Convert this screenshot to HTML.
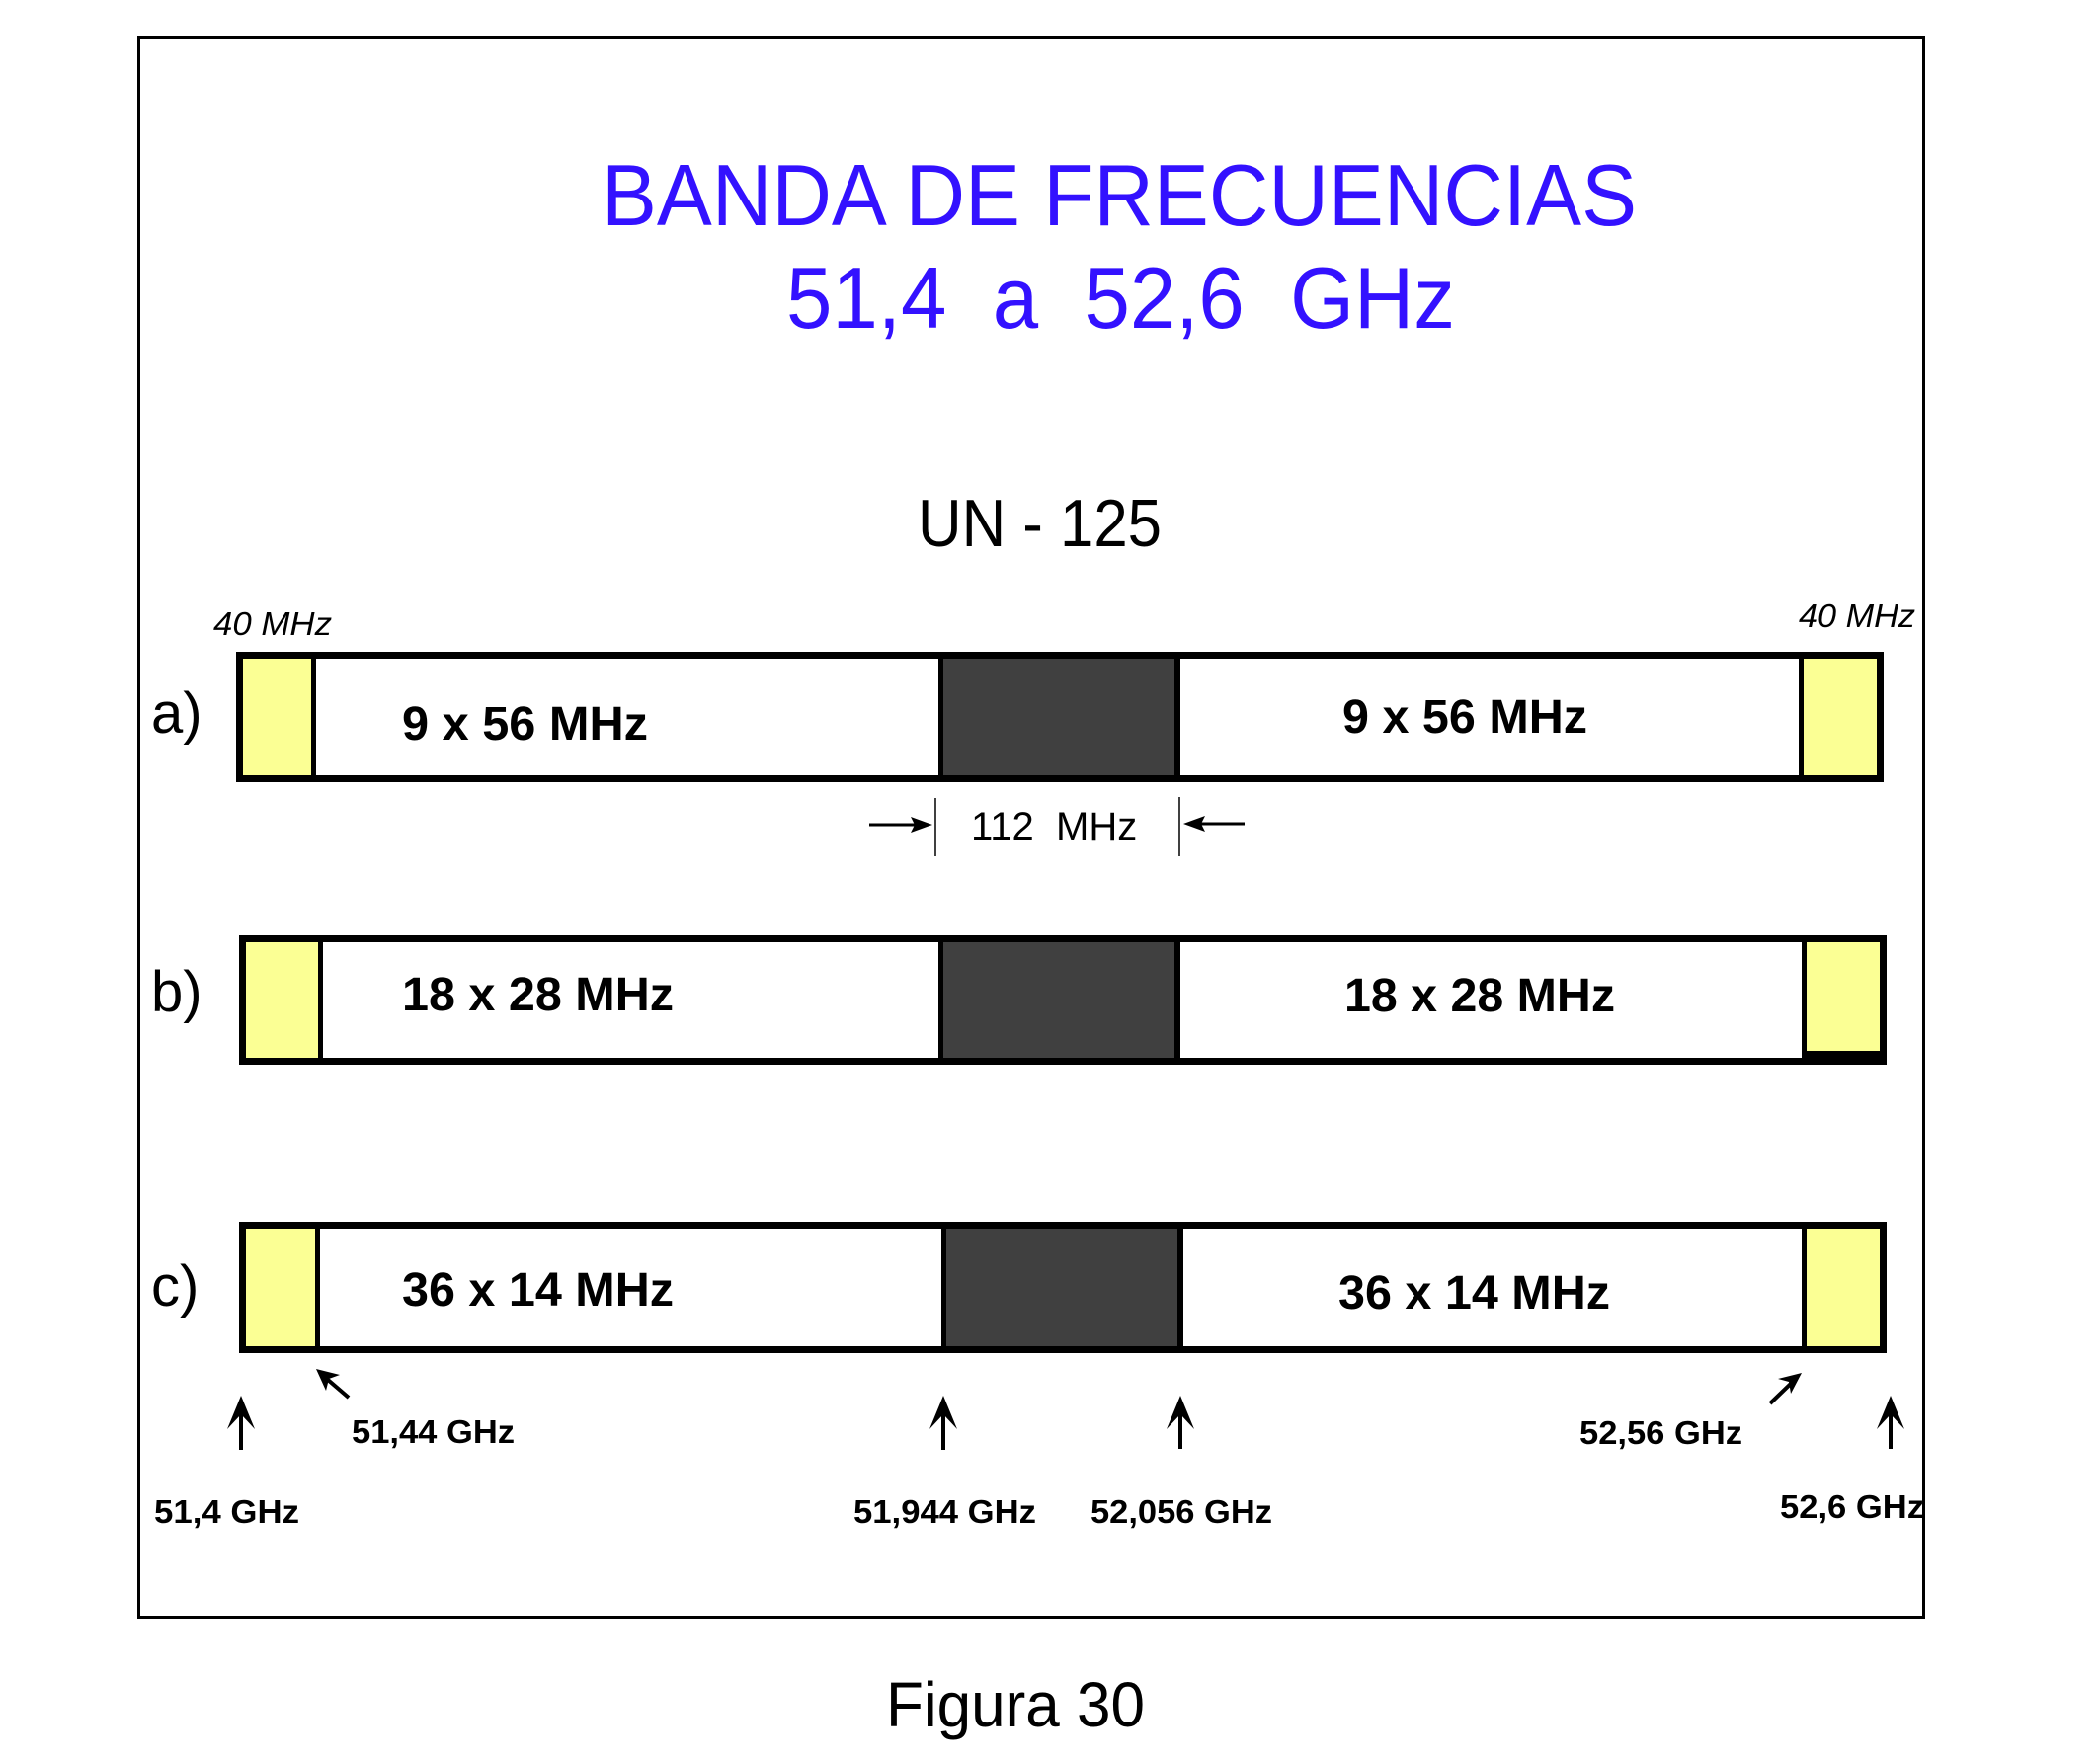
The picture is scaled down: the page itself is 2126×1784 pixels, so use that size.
<!DOCTYPE html>
<html><head><meta charset="utf-8"><style>
html,body{margin:0;padding:0;background:#fff;}
svg{display:block;}
text{font-family:"Liberation Sans",Arial,sans-serif;}
</style></head><body>
<svg width="2126" height="1784" viewBox="0 0 2126 1784" xmlns="http://www.w3.org/2000/svg">
<rect x="0" y="0" width="2126" height="1784" fill="#fff"/>
<rect x="140.5" y="37.5" width="1807" height="1600" fill="none" stroke="#000" stroke-width="3"/>

<text x="609" y="228" font-size="88" fill="#3311ff" textLength="1048" lengthAdjust="spacingAndGlyphs">BANDA DE FRECUENCIAS</text>
<text x="796" y="332" font-size="88" fill="#3311ff" textLength="677" lengthAdjust="spacingAndGlyphs" xml:space="preserve">51,4  a  52,6  GHz</text>
<text x="929" y="553" font-size="68" fill="#000" textLength="247" lengthAdjust="spacingAndGlyphs">UN - 125</text>

<text x="216" y="643" font-size="33" font-style="italic" fill="#000" textLength="120" lengthAdjust="spacingAndGlyphs">40 MHz</text>
<text x="1821" y="635" font-size="33" font-style="italic" fill="#000" textLength="118" lengthAdjust="spacingAndGlyphs">40 MHz</text>

<!-- labels a) b) c) -->
<text x="153" y="742" font-size="58" fill="#000">a)</text>
<text x="153" y="1024" font-size="58" fill="#000">b)</text>
<text x="153" y="1322" font-size="58" fill="#000">c)</text>

<!-- Bar a -->
<g>
<rect x="239" y="660" width="1668" height="132" fill="#000"/>
<rect x="246" y="667" width="1654" height="118" fill="#fff"/>
<rect x="246" y="667" width="69" height="118" fill="#fbff94"/>
<rect x="315" y="667" width="5" height="118" fill="#000"/>
<rect x="950" y="667" width="245" height="118" fill="#000"/>
<rect x="955" y="667" width="234" height="118" fill="#404040"/>
<rect x="1821" y="667" width="5" height="118" fill="#000"/>
<rect x="1826" y="667" width="74" height="118" fill="#fbff94"/>
</g>
<text x="407" y="749" font-size="48" font-weight="bold" fill="#000" textLength="249" lengthAdjust="spacingAndGlyphs">9 x 56 MHz</text>
<text x="1359" y="742" font-size="48" font-weight="bold" fill="#000" textLength="248" lengthAdjust="spacingAndGlyphs">9 x 56 MHz</text>

<!-- 112 MHz -->
<line x1="947" y1="808" x2="947" y2="867" stroke="#000" stroke-width="1.5"/>
<line x1="1194" y1="807" x2="1194" y2="867" stroke="#000" stroke-width="1.5"/>
<line x1="880" y1="835" x2="940" y2="835" stroke="#000" stroke-width="3"/>
<polygon points="944,835 922,827 926,835 922,843" fill="#000"/>
<line x1="1203" y1="834" x2="1260" y2="834" stroke="#000" stroke-width="3"/>
<polygon points="1198,834 1220,826 1216,834 1220,842" fill="#000"/>
<text x="983" y="850" font-size="40" fill="#000" xml:space="preserve">112  MHz</text>

<!-- Bar b -->
<g>
<rect x="242" y="947" width="1668" height="131" fill="#000"/>
<rect x="249" y="954" width="1654" height="117" fill="#fff"/>
<rect x="249" y="954" width="73" height="117" fill="#fbff94"/>
<rect x="322" y="954" width="5" height="117" fill="#000"/>
<rect x="950" y="954" width="245" height="117" fill="#000"/>
<rect x="955" y="954" width="234" height="117" fill="#404040"/>
<rect x="1824" y="954" width="5" height="117" fill="#000"/>
<rect x="1829" y="954" width="74" height="110" fill="#fbff94"/>
<rect x="1829" y="1064" width="74" height="7" fill="#000"/>
</g>
<text x="407" y="1023" font-size="48" font-weight="bold" fill="#000" textLength="275" lengthAdjust="spacingAndGlyphs">18 x 28 MHz</text>
<text x="1361" y="1024" font-size="48" font-weight="bold" fill="#000" textLength="274" lengthAdjust="spacingAndGlyphs">18 x 28 MHz</text>

<!-- Bar c -->
<g>
<rect x="242" y="1237" width="1668" height="133" fill="#000"/>
<rect x="249" y="1244" width="1654" height="119" fill="#fff"/>
<rect x="249" y="1244" width="70" height="119" fill="#fbff94"/>
<rect x="319" y="1244" width="5" height="119" fill="#000"/>
<rect x="953" y="1244" width="245" height="119" fill="#000"/>
<rect x="958" y="1244" width="234" height="119" fill="#404040"/>
<rect x="1824" y="1244" width="5" height="119" fill="#000"/>
<rect x="1829" y="1244" width="74" height="119" fill="#fbff94"/>
</g>
<text x="407" y="1322" font-size="48" font-weight="bold" fill="#000" textLength="275" lengthAdjust="spacingAndGlyphs">36 x 14 MHz</text>
<text x="1355" y="1325" font-size="48" font-weight="bold" fill="#000" textLength="275" lengthAdjust="spacingAndGlyphs">36 x 14 MHz</text>

<!-- bottom arrows -->
<g stroke="#000" stroke-width="4" fill="none">
<line x1="244" y1="1420" x2="244" y2="1468"/>
<line x1="955" y1="1420" x2="955" y2="1468"/>
<line x1="1195" y1="1420" x2="1195" y2="1467"/>
<line x1="1914" y1="1420" x2="1914" y2="1467"/>
<line x1="353" y1="1415" x2="325" y2="1391"/>
<line x1="1792" y1="1421" x2="1819" y2="1395"/>
</g>
<g fill="#000">
<polygon points="244,1413 230,1447 244,1432 258,1447"/>
<polygon points="955,1413 941,1447 955,1432 969,1447"/>
<polygon points="1195,1413 1181,1447 1195,1432 1209,1447"/>
<polygon points="1914,1413 1900,1447 1914,1432 1928,1447"/>
<polygon points="320,1386 344,1392 333,1396 330,1408"/>
<polygon points="1824,1390 1800,1396 1811,1399 1813,1411"/>
</g>

<text x="356" y="1461" font-size="33" font-weight="bold" fill="#000" textLength="165" lengthAdjust="spacingAndGlyphs">51,44 GHz</text>
<text x="1599" y="1462" font-size="33" font-weight="bold" fill="#000" textLength="165" lengthAdjust="spacingAndGlyphs">52,56 GHz</text>
<text x="156" y="1542" font-size="33" font-weight="bold" fill="#000" textLength="147" lengthAdjust="spacingAndGlyphs">51,4 GHz</text>
<text x="864" y="1542" font-size="33" font-weight="bold" fill="#000" textLength="185" lengthAdjust="spacingAndGlyphs">51,944 GHz</text>
<text x="1104" y="1542" font-size="33" font-weight="bold" fill="#000" textLength="184" lengthAdjust="spacingAndGlyphs">52,056 GHz</text>
<text x="1802" y="1537" font-size="33" font-weight="bold" fill="#000" textLength="146" lengthAdjust="spacingAndGlyphs">52,6 GHz</text>

<text x="897" y="1748" font-size="64" fill="#000" textLength="262" lengthAdjust="spacingAndGlyphs">Figura 30</text>
</svg>
</body></html>
